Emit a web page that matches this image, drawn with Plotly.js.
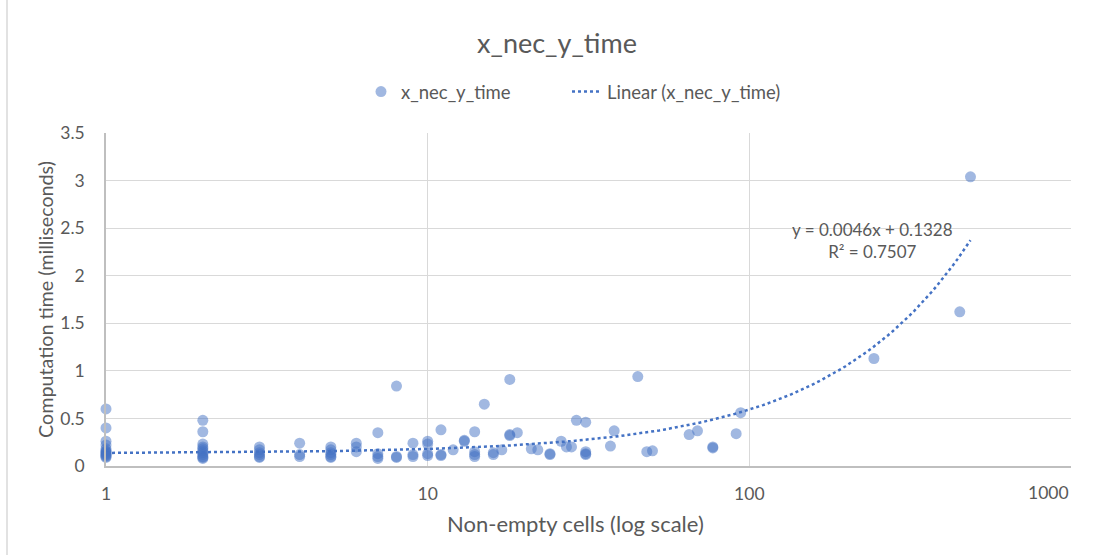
<!DOCTYPE html>
<html>
<head>
<meta charset="utf-8">
<script src="https://cdn.plot.ly/plotly-3.0.1.min.js"></script>
<style>
  html, body { margin: 0; padding: 0; background: #fff; }
  #chart { width: 1108px; height: 555px; }
</style>
</head>
<body>
<div id="chart"></div>
<script>
// Non-empty cells (x) for each observation
const nonEmptyCells = [
  1,1,1,1,1,1,1,1,1,1,1,1,1,
  2,2,2,2,2,2,2,2,2,2,2,
  3,3,3,3,3,3,
  4,4,4,
  5,5,5,5,5,5,
  6,6,6,
  7,7,7,7,
  8,8,8,
  9,9,9,
  10,10,10,10,
  11,11,11,
  12,
  13,13,
  14,14,14,14,
  15,
  16,16,
  17,
  18,18,18,
  19,
  21,22,24,24,26,27,28,29,
  31,31,31,31,
  37,38,45,48,50,65,69,77,77,91,94,
  244,451,487
];
// Computation time (ms) for each observation
const computationTime = [
  0.60,0.40,0.26,0.22,0.18,0.16,0.15,0.14,0.13,0.12,0.11,0.10,0.09,
  0.48,0.36,0.23,0.20,0.18,0.16,0.14,0.12,0.10,0.09,0.08,
  0.20,0.17,0.14,0.12,0.10,0.09,
  0.24,0.12,0.10,
  0.20,0.17,0.14,0.12,0.10,0.09,
  0.24,0.20,0.15,
  0.35,0.13,0.10,0.08,
  0.84,0.10,0.09,
  0.24,0.12,0.10,
  0.26,0.23,0.13,0.11,
  0.38,0.12,0.11,
  0.17,
  0.26,0.27,
  0.36,0.15,0.12,0.10,
  0.65,
  0.14,0.12,
  0.17,
  0.91,0.33,0.32,
  0.35,
  0.18,0.17,0.13,0.12,0.26,0.20,0.20,0.48,
  0.46,0.15,0.13,0.12,
  0.21,0.37,0.94,0.15,0.16,0.33,0.37,0.19,0.20,0.34,0.56,
  1.13,1.62,3.04
];
// Linear trendline coefficients as shown on the chart
const trendSlope = 0.0046;
const trendIntercept = 0.1328;
const trendLabel = ["y = 0.0046x + 0.1328", "R² = 0.7507"];
const yTickVals = [0, 0.5, 1, 1.5, 2, 2.5, 3, 3.5];
const yTickText = ["0", "0.5", "1", "1.5", "2", "2.5", "3", "3.5"];
const xTickVals = [1, 10, 100, 1000];
const xTickText = ["1", "10", "100", "1000"];
const xTitle = "Non-empty cells (log scale)";
const yTitle = "Computation time (milliseconds)";

// Trendline drawn across the data range (curved on log axis)
const xMin = Math.min(...nonEmptyCells), xMax = Math.max(...nonEmptyCells);
const trendX = [], trendY = [];
const N = 200;
for (let i = 0; i <= N; i++) {
  const lx = Math.log10(xMin) + (Math.log10(xMax) - Math.log10(xMin)) * i / N;
  const xv = Math.pow(10, lx);
  trendX.push(xv);
  trendY.push(trendSlope * xv + trendIntercept);
}

const FONT = "Lato, 'Open Sans', sans-serif";
const GREY = "#595959";
const lastTick = xTickVals.length - 1;

const traces = [
  {
    type: "scatter", mode: "markers", name: "x_nec_y_time",
    x: nonEmptyCells, y: computationTime,
    marker: { color: "rgba(68,114,196,0.5)", size: 11, line: { width: 0 } },
    cliponaxis: false, legend: "legend"
  },
  {
    type: "scatter", mode: "lines", name: "Linear (x_nec_y_time)",
    x: trendX, y: trendY,
    line: { color: "#4472C4", width: 2.5, dash: "dot" },
    cliponaxis: false, legend: "legend2"
  }
];

const legendFont = { family: FONT, size: 18.5, color: GREY };
const layout = {
  width: 1108, height: 555,
  margin: { l: 106, r: 37, t: 133, b: 89 },
  paper_bgcolor: "#fff", plot_bgcolor: "#fff",
  font: { family: FONT, color: GREY, size: 17 },
  title: { text: "x_nec_y_time", font: { family: FONT, size: 27, color: GREY },
           x: 557/1108, xanchor: "center", xref: "container", y: 1 - 44/555, yanchor: "middle" },
  showlegend: true,
  legend: { orientation: "h", x: (361-106)/965, xanchor: "left", y: (466-92)/333, yanchor: "middle",
            font: legendFont },
  legend2: { orientation: "h", x: (567-106)/965, xanchor: "left", y: (466-92)/333, yanchor: "middle",
            font: legendFont },
  xaxis: {
    type: "log", range: [0, 3],
    tickvals: xTickVals.slice(0, lastTick), ticktext: xTickText.slice(0, lastTick),
    showgrid: true, gridcolor: "#D9D9D9", gridwidth: 1,
    showline: true, linecolor: "#BFBFBF", linewidth: 1.5,
    zeroline: false, ticks: "", ticklabelstandoff: 11,
    tickfont: { family: FONT, size: 17.5, color: GREY }
  },
  yaxis: {
    range: [0, 3.5],
    tickvals: yTickVals, ticktext: yTickText,
    showgrid: true, gridcolor: "#D9D9D9", gridwidth: 1,
    showline: true, linecolor: "#BFBFBF", linewidth: 1.5,
    zeroline: false, ticks: "", ticklabelstandoff: 16,
    tickfont: { family: FONT, size: 17.5, color: GREY },
    title: { text: yTitle, font: { family: FONT, size: 19.7, color: GREY }, standoff: 1 }
  },
  annotations: [
    { xref: "paper", yref: "paper", x: (872-106)/965, y: (466-240)/333,
      text: trendLabel.join("<br>"), showarrow: false, align: "center",
      xanchor: "center", yanchor: "middle",
      font: { family: FONT, size: 17, color: GREY } },
    { xref: "x", yref: "paper", x: Math.log10(xTickVals[lastTick]), y: -(492-466)/333,
      text: xTickText[lastTick], showarrow: false, xanchor: "right", yanchor: "middle",
      font: { family: FONT, size: 17.5, color: GREY } },
    { xref: "paper", yref: "paper", x: (575-106)/965, y: -(523-466)/333,
      text: xTitle, showarrow: false, xanchor: "center", yanchor: "middle",
      font: { family: FONT, size: 22, color: GREY } }
  ],
  shapes: [
    { type: "line", xref: "paper", yref: "paper",
      x0: (7-106)/965, x1: (7-106)/965, y0: -89/333, y1: 466/333,
      line: { color: "#D9D9D9", width: 1.5 } }
  ]
};

Plotly.newPlot("chart", traces, layout, { displayModeBar: false, responsive: false });
</script>
</body>
</html>
